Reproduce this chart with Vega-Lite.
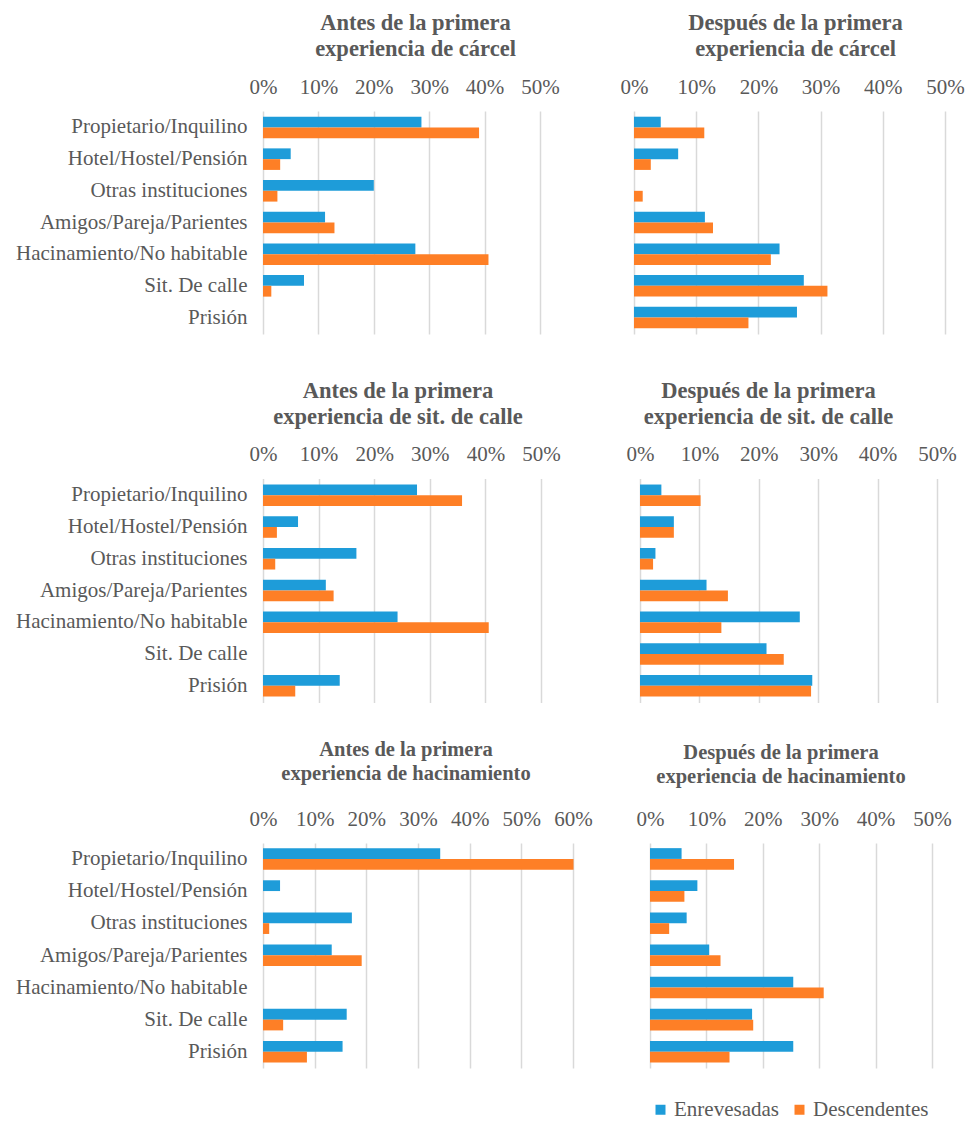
{
  "$schema": "https://vega.github.io/schema/vega-lite/v6.json",
  "background": "white",
  "padding": {"left": 15, "top": 11, "right": 0, "bottom": 0},
  "datasets": {
    "d": [
      {"panel": "p1", "cat": "Propietario/Inquilino", "serie": "Enrevesadas", "value": 0.286},
      {"panel": "p1", "cat": "Propietario/Inquilino", "serie": "Descendentes", "value": 0.390},
      {"panel": "p1", "cat": "Hotel/Hostel/Pensión", "serie": "Enrevesadas", "value": 0.050},
      {"panel": "p1", "cat": "Hotel/Hostel/Pensión", "serie": "Descendentes", "value": 0.031},
      {"panel": "p1", "cat": "Otras instituciones", "serie": "Enrevesadas", "value": 0.200},
      {"panel": "p1", "cat": "Otras instituciones", "serie": "Descendentes", "value": 0.026},
      {"panel": "p1", "cat": "Amigos/Pareja/Parientes", "serie": "Enrevesadas", "value": 0.112},
      {"panel": "p1", "cat": "Amigos/Pareja/Parientes", "serie": "Descendentes", "value": 0.129},
      {"panel": "p1", "cat": "Hacinamiento/No habitable", "serie": "Enrevesadas", "value": 0.275},
      {"panel": "p1", "cat": "Hacinamiento/No habitable", "serie": "Descendentes", "value": 0.407},
      {"panel": "p1", "cat": "Sit. De calle", "serie": "Enrevesadas", "value": 0.074},
      {"panel": "p1", "cat": "Sit. De calle", "serie": "Descendentes", "value": 0.015},
      {"panel": "p1", "cat": "Prisión", "serie": "Enrevesadas", "value": 0},
      {"panel": "p1", "cat": "Prisión", "serie": "Descendentes", "value": 0},

      {"panel": "p2", "cat": "Propietario/Inquilino", "serie": "Enrevesadas", "value": 0.043},
      {"panel": "p2", "cat": "Propietario/Inquilino", "serie": "Descendentes", "value": 0.113},
      {"panel": "p2", "cat": "Hotel/Hostel/Pensión", "serie": "Enrevesadas", "value": 0.071},
      {"panel": "p2", "cat": "Hotel/Hostel/Pensión", "serie": "Descendentes", "value": 0.027},
      {"panel": "p2", "cat": "Otras instituciones", "serie": "Enrevesadas", "value": 0},
      {"panel": "p2", "cat": "Otras instituciones", "serie": "Descendentes", "value": 0.014},
      {"panel": "p2", "cat": "Amigos/Pareja/Parientes", "serie": "Enrevesadas", "value": 0.114},
      {"panel": "p2", "cat": "Amigos/Pareja/Parientes", "serie": "Descendentes", "value": 0.127},
      {"panel": "p2", "cat": "Hacinamiento/No habitable", "serie": "Enrevesadas", "value": 0.234},
      {"panel": "p2", "cat": "Hacinamiento/No habitable", "serie": "Descendentes", "value": 0.220},
      {"panel": "p2", "cat": "Sit. De calle", "serie": "Enrevesadas", "value": 0.273},
      {"panel": "p2", "cat": "Sit. De calle", "serie": "Descendentes", "value": 0.311},
      {"panel": "p2", "cat": "Prisión", "serie": "Enrevesadas", "value": 0.262},
      {"panel": "p2", "cat": "Prisión", "serie": "Descendentes", "value": 0.184},

      {"panel": "p3", "cat": "Propietario/Inquilino", "serie": "Enrevesadas", "value": 0.277},
      {"panel": "p3", "cat": "Propietario/Inquilino", "serie": "Descendentes", "value": 0.358},
      {"panel": "p3", "cat": "Hotel/Hostel/Pensión", "serie": "Enrevesadas", "value": 0.063},
      {"panel": "p3", "cat": "Hotel/Hostel/Pensión", "serie": "Descendentes", "value": 0.025},
      {"panel": "p3", "cat": "Otras instituciones", "serie": "Enrevesadas", "value": 0.168},
      {"panel": "p3", "cat": "Otras instituciones", "serie": "Descendentes", "value": 0.022},
      {"panel": "p3", "cat": "Amigos/Pareja/Parientes", "serie": "Enrevesadas", "value": 0.113},
      {"panel": "p3", "cat": "Amigos/Pareja/Parientes", "serie": "Descendentes", "value": 0.127},
      {"panel": "p3", "cat": "Hacinamiento/No habitable", "serie": "Enrevesadas", "value": 0.242},
      {"panel": "p3", "cat": "Hacinamiento/No habitable", "serie": "Descendentes", "value": 0.406},
      {"panel": "p3", "cat": "Sit. De calle", "serie": "Enrevesadas", "value": 0},
      {"panel": "p3", "cat": "Sit. De calle", "serie": "Descendentes", "value": 0},
      {"panel": "p3", "cat": "Prisión", "serie": "Enrevesadas", "value": 0.138},
      {"panel": "p3", "cat": "Prisión", "serie": "Descendentes", "value": 0.058},

      {"panel": "p4", "cat": "Propietario/Inquilino", "serie": "Enrevesadas", "value": 0.036},
      {"panel": "p4", "cat": "Propietario/Inquilino", "serie": "Descendentes", "value": 0.102},
      {"panel": "p4", "cat": "Hotel/Hostel/Pensión", "serie": "Enrevesadas", "value": 0.057},
      {"panel": "p4", "cat": "Hotel/Hostel/Pensión", "serie": "Descendentes", "value": 0.057},
      {"panel": "p4", "cat": "Otras instituciones", "serie": "Enrevesadas", "value": 0.026},
      {"panel": "p4", "cat": "Otras instituciones", "serie": "Descendentes", "value": 0.022},
      {"panel": "p4", "cat": "Amigos/Pareja/Parientes", "serie": "Enrevesadas", "value": 0.112},
      {"panel": "p4", "cat": "Amigos/Pareja/Parientes", "serie": "Descendentes", "value": 0.148},
      {"panel": "p4", "cat": "Hacinamiento/No habitable", "serie": "Enrevesadas", "value": 0.269},
      {"panel": "p4", "cat": "Hacinamiento/No habitable", "serie": "Descendentes", "value": 0.137},
      {"panel": "p4", "cat": "Sit. De calle", "serie": "Enrevesadas", "value": 0.213},
      {"panel": "p4", "cat": "Sit. De calle", "serie": "Descendentes", "value": 0.242},
      {"panel": "p4", "cat": "Prisión", "serie": "Enrevesadas", "value": 0.290},
      {"panel": "p4", "cat": "Prisión", "serie": "Descendentes", "value": 0.288},

      {"panel": "p5", "cat": "Propietario/Inquilino", "serie": "Enrevesadas", "value": 0.343},
      {"panel": "p5", "cat": "Propietario/Inquilino", "serie": "Descendentes", "value": 0.601},
      {"panel": "p5", "cat": "Hotel/Hostel/Pensión", "serie": "Enrevesadas", "value": 0.033},
      {"panel": "p5", "cat": "Hotel/Hostel/Pensión", "serie": "Descendentes", "value": 0},
      {"panel": "p5", "cat": "Otras instituciones", "serie": "Enrevesadas", "value": 0.172},
      {"panel": "p5", "cat": "Otras instituciones", "serie": "Descendentes", "value": 0.012},
      {"panel": "p5", "cat": "Amigos/Pareja/Parientes", "serie": "Enrevesadas", "value": 0.133},
      {"panel": "p5", "cat": "Amigos/Pareja/Parientes", "serie": "Descendentes", "value": 0.191},
      {"panel": "p5", "cat": "Hacinamiento/No habitable", "serie": "Enrevesadas", "value": 0},
      {"panel": "p5", "cat": "Hacinamiento/No habitable", "serie": "Descendentes", "value": 0},
      {"panel": "p5", "cat": "Sit. De calle", "serie": "Enrevesadas", "value": 0.162},
      {"panel": "p5", "cat": "Sit. De calle", "serie": "Descendentes", "value": 0.039},
      {"panel": "p5", "cat": "Prisión", "serie": "Enrevesadas", "value": 0.154},
      {"panel": "p5", "cat": "Prisión", "serie": "Descendentes", "value": 0.085},

      {"panel": "p6", "cat": "Propietario/Inquilino", "serie": "Enrevesadas", "value": 0.056},
      {"panel": "p6", "cat": "Propietario/Inquilino", "serie": "Descendentes", "value": 0.149},
      {"panel": "p6", "cat": "Hotel/Hostel/Pensión", "serie": "Enrevesadas", "value": 0.084},
      {"panel": "p6", "cat": "Hotel/Hostel/Pensión", "serie": "Descendentes", "value": 0.061},
      {"panel": "p6", "cat": "Otras instituciones", "serie": "Enrevesadas", "value": 0.065},
      {"panel": "p6", "cat": "Otras instituciones", "serie": "Descendentes", "value": 0.034},
      {"panel": "p6", "cat": "Amigos/Pareja/Parientes", "serie": "Enrevesadas", "value": 0.105},
      {"panel": "p6", "cat": "Amigos/Pareja/Parientes", "serie": "Descendentes", "value": 0.125},
      {"panel": "p6", "cat": "Hacinamiento/No habitable", "serie": "Enrevesadas", "value": 0.254},
      {"panel": "p6", "cat": "Hacinamiento/No habitable", "serie": "Descendentes", "value": 0.308},
      {"panel": "p6", "cat": "Sit. De calle", "serie": "Enrevesadas", "value": 0.181},
      {"panel": "p6", "cat": "Sit. De calle", "serie": "Descendentes", "value": 0.183},
      {"panel": "p6", "cat": "Prisión", "serie": "Enrevesadas", "value": 0.254},
      {"panel": "p6", "cat": "Prisión", "serie": "Descendentes", "value": 0.141}
    ]
  },
  "resolve": {"scale": {"color": "independent"}},
  "spacing": 45.5,
  "vconcat": [
    {
      "spacing": 60,
      "resolve": {"scale": {"color": "independent"}},
      "hconcat": [
        {
          "width": 277, "height": 223,
          "data": {"name": "d"},
          "transform": [{"filter": "datum.panel == 'p1'"}],
          "title": {"text": ["Antes de la primera", "experiencia  de cárcel"], "dx": 14, "offset": 16},
          "mark": {"type": "bar"},
          "encoding": {
            "y": {"field": "cat", "type": "nominal", "title": null,
                  "sort": ["Propietario/Inquilino", "Hotel/Hostel/Pensión", "Otras instituciones", "Amigos/Pareja/Parientes", "Hacinamiento/No habitable", "Sit. De calle", "Prisión"],
                  "scale": {"paddingInner": 0.32, "paddingOuter": 0.18},
                  "axis": {"labelPadding": 16}},
            "yOffset": {"field": "serie", "sort": ["Enrevesadas", "Descendentes"]},
            "x": {"field": "value", "type": "quantitative", "title": null,
                  "scale": {"domain": [0, 0.5], "nice": false},
                  "axis": {"orient": "top", "values": [0, 0.1, 0.2, 0.3, 0.4, 0.5]}},
            "color": {"field": "serie", "legend": null,
                      "scale": {"domain": ["Enrevesadas", "Descendentes"], "range": ["#1e9cd9", "#fe7f26"]}}
          }
        },
        {
          "width": 311, "height": 223,
          "data": {"name": "d"},
          "transform": [{"filter": "datum.panel == 'p2'"}],
          "title": {"text": ["Después de la primera", "experiencia de cárcel"], "dx": 6, "offset": 16},
          "mark": {"type": "bar"},
          "encoding": {
            "y": {"field": "cat", "type": "nominal", "title": null,
                  "sort": ["Propietario/Inquilino", "Hotel/Hostel/Pensión", "Otras instituciones", "Amigos/Pareja/Parientes", "Hacinamiento/No habitable", "Sit. De calle", "Prisión"],
                  "scale": {"paddingInner": 0.32, "paddingOuter": 0.18},
                  "axis": null},
            "yOffset": {"field": "serie", "sort": ["Enrevesadas", "Descendentes"]},
            "x": {"field": "value", "type": "quantitative", "title": null,
                  "scale": {"domain": [0, 0.5], "nice": false},
                  "axis": {"orient": "top", "values": [0, 0.1, 0.2, 0.3, 0.4, 0.5]}},
            "color": {"field": "serie", "legend": null,
                      "scale": {"domain": ["Enrevesadas", "Descendentes"], "range": ["#1e9cd9", "#fe7f26"]}}
          }
        }
      ]
    },
    {
      "spacing": 36.5,
      "resolve": {"scale": {"color": "independent"}},
      "vconcat": [
        {
          "spacing": 65,
          "resolve": {"scale": {"color": "independent"}},
          "hconcat": [
            {
              "width": 278, "height": 224,
              "data": {"name": "d"},
              "transform": [{"filter": "datum.panel == 'p3'"}],
              "title": {"text": ["Antes de la primera", "experiencia de sit. de calle"], "dx": -4, "offset": 15},
              "mark": {"type": "bar"},
              "encoding": {
                "y": {"field": "cat", "type": "nominal", "title": null,
                      "sort": ["Propietario/Inquilino", "Hotel/Hostel/Pensión", "Otras instituciones", "Amigos/Pareja/Parientes", "Hacinamiento/No habitable", "Sit. De calle", "Prisión"],
                      "scale": {"paddingInner": 0.32, "paddingOuter": 0.19},
                      "axis": {"labelPadding": 16}},
                "yOffset": {"field": "serie", "sort": ["Enrevesadas", "Descendentes"]},
                "x": {"field": "value", "type": "quantitative", "title": null,
                      "scale": {"domain": [0, 0.5], "nice": false},
                      "axis": {"orient": "top", "values": [0, 0.1, 0.2, 0.3, 0.4, 0.5]}},
                "color": {"field": "serie", "legend": null,
                          "scale": {"domain": ["Enrevesadas", "Descendentes"], "range": ["#1e9cd9", "#fe7f26"]}}
              }
            },
            {
              "width": 297, "height": 224,
              "data": {"name": "d"},
              "transform": [{"filter": "datum.panel == 'p4'"}],
              "title": {"text": ["Después de la primera", "experiencia de sit. de calle"], "dx": -20, "offset": 15},
              "mark": {"type": "bar"},
              "encoding": {
                "y": {"field": "cat", "type": "nominal", "title": null,
                      "sort": ["Propietario/Inquilino", "Hotel/Hostel/Pensión", "Otras instituciones", "Amigos/Pareja/Parientes", "Hacinamiento/No habitable", "Sit. De calle", "Prisión"],
                      "scale": {"paddingInner": 0.32, "paddingOuter": 0.19},
                      "axis": null},
                "yOffset": {"field": "serie", "sort": ["Enrevesadas", "Descendentes"]},
                "x": {"field": "value", "type": "quantitative", "title": null,
                      "scale": {"domain": [0, 0.5], "nice": false},
                      "axis": {"orient": "top", "values": [0, 0.1, 0.2, 0.3, 0.4, 0.5]}},
                "color": {"field": "serie", "legend": null,
                          "scale": {"domain": ["Enrevesadas", "Descendentes"], "range": ["#1e9cd9", "#fe7f26"]}}
              }
            }
          ]
        },
        {
          "spacing": 43,
          "resolve": {"scale": {"color": "independent"}},
          "hconcat": [
            {
              "width": 310, "height": 225,
              "data": {"name": "d"},
              "transform": [{"filter": "datum.panel == 'p5'"}],
              "title": {"text": ["Antes de la primera", "experiencia de hacinamiento"], "dx": -12, "offset": 24, "fontSize": 20.5, "lineHeight": 24},
              "mark": {"type": "bar"},
              "encoding": {
                "y": {"field": "cat", "type": "nominal", "title": null,
                      "sort": ["Propietario/Inquilino", "Hotel/Hostel/Pensión", "Otras instituciones", "Amigos/Pareja/Parientes", "Hacinamiento/No habitable", "Sit. De calle", "Prisión"],
                      "scale": {"paddingInner": 0.32, "paddingOuter": 0.16},
                      "axis": {"labelPadding": 16}},
                "yOffset": {"field": "serie", "sort": ["Enrevesadas", "Descendentes"]},
                "x": {"field": "value", "type": "quantitative", "title": null,
                      "scale": {"domain": [0, 0.6], "nice": false},
                      "axis": {"orient": "top", "values": [0, 0.1, 0.2, 0.3, 0.4, 0.5, 0.6]}},
                "color": {"field": "serie", "legend": null,
                          "scale": {"domain": ["Enrevesadas", "Descendentes"], "range": ["#1e9cd9", "#fe7f26"]}}
              }
            },
            {
              "width": 282, "height": 225,
              "data": {"name": "d"},
              "transform": [{"filter": "datum.panel == 'p6'"}],
              "title": {"text": ["Después de la primera", "experiencia de hacinamiento"], "dx": -10, "offset": 21, "fontSize": 20.5, "lineHeight": 24},
              "mark": {"type": "bar"},
              "encoding": {
                "y": {"field": "cat", "type": "nominal", "title": null,
                      "sort": ["Propietario/Inquilino", "Hotel/Hostel/Pensión", "Otras instituciones", "Amigos/Pareja/Parientes", "Hacinamiento/No habitable", "Sit. De calle", "Prisión"],
                      "scale": {"paddingInner": 0.32, "paddingOuter": 0.16},
                      "axis": null},
                "yOffset": {"field": "serie", "sort": ["Enrevesadas", "Descendentes"]},
                "x": {"field": "value", "type": "quantitative", "title": null,
                      "scale": {"domain": [0, 0.5], "nice": false},
                      "axis": {"orient": "top", "values": [0, 0.1, 0.2, 0.3, 0.4, 0.5]}},
                "color": {"field": "serie",
                          "scale": {"domain": ["Enrevesadas", "Descendentes"], "range": ["#1e9cd9", "#fe7f26"]},
                          "legend": {"orient": "bottom", "direction": "horizontal", "title": null, "offset": 31,
                                     "symbolType": "square", "symbolSize": 100, "symbolStrokeWidth": 0,
                                     "labelFont": "Liberation Serif", "labelFontSize": 21, "labelColor": "#595959",
                                     "labelOffset": 3, "columnPadding": 10}}
              }
            }
          ]
        }
      ]
    }
  ],
  "config": {
    "view": {"stroke": null},
    "font": "Liberation Serif",
    "axis": {"domain": false, "ticks": false, "tickSize": 0, "labelFont": "Liberation Serif", "labelFontSize": 21, "labelColor": "#595959", "gridColor": "#d9d9d9", "gridWidth": 1.5},
    "axisX": {"labelFlush": false, "labelPadding": 14, "format": ".0%", "labelOverlap": false, "grid": true},
    "axisY": {"grid": false, "labelLimit": 400},
    "title": {"font": "Liberation Serif", "fontSize": 22.5, "fontWeight": "bold", "color": "#595959", "lineHeight": 26, "anchor": "middle", "frame": "group"}
  }
}
